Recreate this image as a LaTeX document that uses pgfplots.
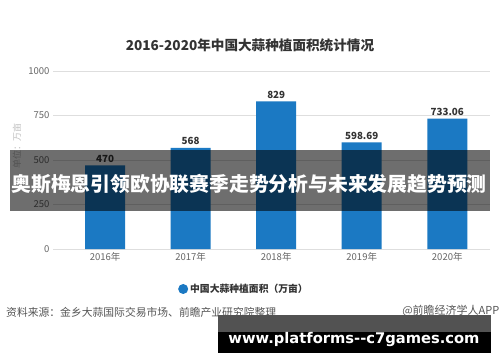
\documentclass[border=0pt]{standalone}
\usepackage{pgfplots}
\pgfplotsset{compat=1.18}
\usepackage{fontspec}
\setmainfont{Noto Sans CJK SC}
\newfontfamily\urlfont{DejaVu Sans}
\definecolor{barblue}{HTML}{1B79C3}
\definecolor{tickgray}{HTML}{666666}
\definecolor{labelgray}{HTML}{333333}
\definecolor{titlegray}{HTML}{333333}
\definecolor{srcgray}{HTML}{555555}
\begin{document}
\begin{tikzpicture}[x=1pt,y=1pt]
\path[use as bounding box, fill=white] (0,0) rectangle (500,362);
\begin{axis}[at={(53pt,113pt)}, anchor=south west, scale only axis,
  width=437pt, height=178pt,
  xmin=-0.61, xmax=4.5, ymin=0, ymax=1000,
  ytick={0,250,500,750,1000},
  xtick={0,1,2,3,4}, xticklabels={2016年,2017年,2018年,2019年,2020年},
  axis line style={draw=none}, major tick length=0pt,
  ymajorgrids, grid style={color=black!13, line width=0.6pt},
  ticklabel style={font=\fontsize{9.5}{10}\selectfont, text=tickgray},
  /pgf/number format/assume math mode=true,
  /pgf/number format/1000 sep={},
  ybar, bar width=40pt,
  nodes near coords,
  nodes near coords style={font=\bfseries\fontsize{9.8}{10}\selectfont, text=labelgray, anchor=south, inner sep=1pt, yshift=2pt},
  legend style={at={(0.286,-0.2247)}, anchor=west, draw=none, fill=none,
    font=\bfseries\fontsize{9.8}{11}\selectfont, text=labelgray, inner sep=0pt},
]
\addplot[fill=barblue, draw=none,
  legend image code/.code={\fill[barblue] (5pt,0pt) circle (5pt);}]
  coordinates {(0,470) (1,568) (2,829) (3,598.69) (4,733.06)};
\addlegendentry{中国大蒜种植面积（万亩）}
\end{axis}
% title
\node[font=\bfseries\fontsize{13.6}{15}\selectfont, text=titlegray] at (250,317) {2016-2020年中国大蒜种植面积统计情况};
% y unit label
\node[rotate=90, font=\fontsize{9}{10}\selectfont, text=black!25] at (17,216) {单位：万亩};
% source
\node[anchor=west, inner sep=0pt, font=\fontsize{10.8}{12}\selectfont, text=srcgray] at (6,50) {资料来源：金乡大蒜国际交易市场、前瞻产业研究院整理};
\node[anchor=east, inner sep=0pt, font=\fontsize{11}{12}\selectfont, text=srcgray] at (499.5,51) {@前瞻经济学人APP};
% overlay banner
\fill[black, fill opacity=0.57] (10,151) rectangle (490,212);
\node[text=white, font=\bfseries\fontsize{19.8}{21}\selectfont] at (249,178) {奥斯梅恩引领欧协联赛季走势分析与未来发展趋势预测};
% bottom banner
\fill[black!68] (218,30) rectangle (491,47);
\fill[black] (218,9) rectangle (491,30);
\node[anchor=base, inner sep=0pt, text=white, font=\urlfont\bfseries\fontsize{14.7}{16}\selectfont] at (354,19) {www.platforms--c7games.com};
\end{tikzpicture}
\end{document}
